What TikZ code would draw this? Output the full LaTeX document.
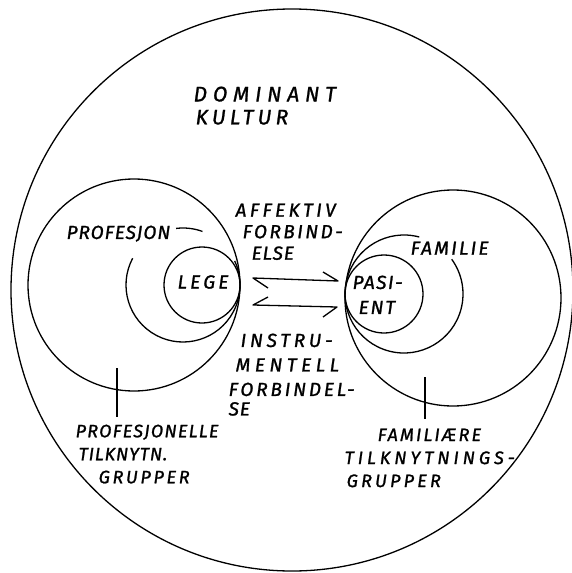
\documentclass[tikz,border=0pt]{standalone}
\usepackage{fontspec}
\newfontfamily\hand[LetterSpace=5,FakeBold=1.2]{Fira Sans}
\newcommand{\lsp}[2]{{\addfontfeature{LetterSpace=#1}#2}}
\usetikzlibrary{positioning}

\tikzset{
  lbl/.style={font=\hand\itshape\fontsize{19}{25}\selectfont, inner sep=0pt,
    align=left, anchor=north west},
}

\begin{document}
\begin{tikzpicture}[x=1pt, y=-1pt, line width=1.3pt, line join=round]
  \useasboundingbox (0,0) rectangle (571,573);
  % dominant culture
  \draw (292,290) circle[radius=281];
  \node[lbl, font=\hand\itshape\fontsize{21}{23}\selectfont]
    (kultur) at (193,86) {\lsp{28}{DOMINANT}\\\hspace*{2pt}\lsp{20}{KULTUR}};

  % doctor side
  \coordinate (lt) at (240,285);
  \draw (134,285) circle[radius=106];
  \draw (183,285) ++(-152:57) arc[start angle=-152, end angle=-385, radius=57];
  \draw (183,285) ++(-70:57) arc[start angle=-70, end angle=-97, radius=57];
  \draw (202,285) circle[radius=38];
  \node[lbl] (profesjon) at (66,225) {PROFESJON};
  \node[lbl, anchor=center] (lege) at (203,282) {\lsp{17}{LEGE}};

  % patient side
  \coordinate (rt) at (345,294);
  \draw (453,298) circle[radius=108];
  \draw (404,294) ++(-75:59) arc[start angle=-75, end angle=-396, radius=59];
  \draw (384,294) circle[radius=39];
  \node[lbl] (familie) at (410,241) {\lsp{12}{FAMILIE}};
  \node[lbl] (pasient) at (352,275) {\lsp{8}{PASI-}\\\hspace*{6pt}\lsp{10}{ENT}};

  % the two links
  \draw (268,288) -- (253,278) -- (338,281) -- (323,272);
  \draw (268,297) -- (253,305) -- (337,307) -- (323,317);
  \node[lbl, font=\hand\itshape\fontsize{19}{21.5}\selectfont] (affektiv) at (235,203)
    {\lsp{18}{AFFEKTIV}\\\hspace*{7pt}\lsp{13}{FORBIND-}\\\hspace*{16pt}ELSE};
  \node[lbl, font=\hand\itshape\fontsize{19}{24.5}\selectfont] (instru) at (228,333)
    {\hspace*{12pt}\lsp{20}{INSTRU-}\\\hspace*{7pt}\lsp{24}{MENTELL}\\
     \lsp{15}{FORBINDEL-}\\[-5pt]SE};

  % group labels
  \node[lbl, font=\hand\itshape\fontsize{18}{23}\selectfont] (profgr) at (75,424)
    {\lsp{7}{PROFESJONELLE}\\\hspace*{3pt}TILKNYTN.\\\hspace*{23pt}\lsp{15}{GRUPPER}};
  \node[lbl, font=\hand\itshape\fontsize{18}{23}\selectfont] (famgr) at (344,428)
    {\hspace*{33pt}\lsp{12}{FAMILIÆRE}\\\lsp{22}{TILKNYTNINGS-}\\\hspace*{2pt}\lsp{18}{GRUPPER}};
  \coordinate (lp) at (117,368);
  \draw[shorten >=7pt] (lp) -- (lp |- profgr.north);
  \coordinate (rp) at (425,377);
  \draw[shorten >=9pt] (rp) -- (rp |- famgr.north);
\end{tikzpicture}
\end{document}
